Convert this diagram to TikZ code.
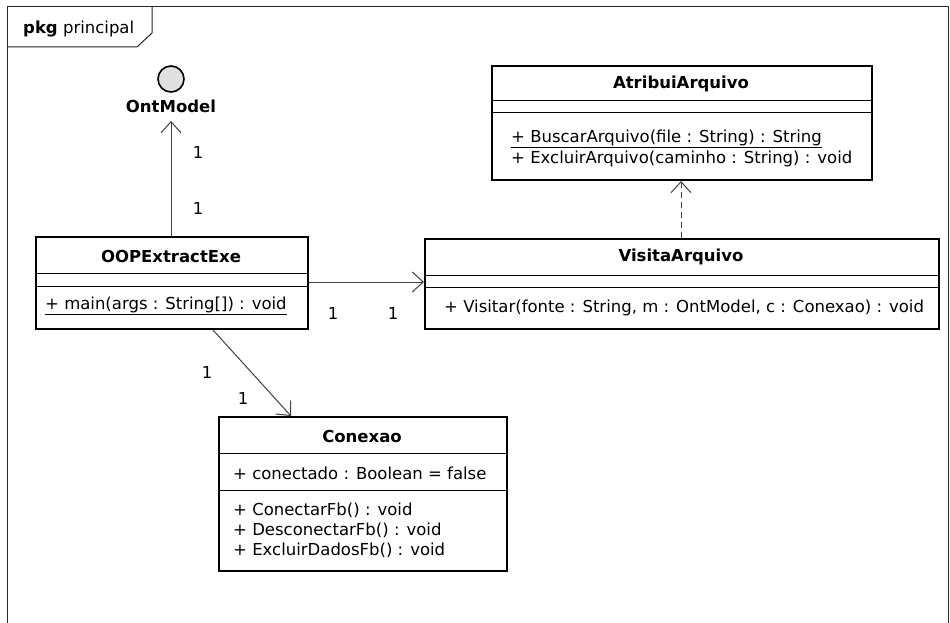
\documentclass[tikz,border=0pt]{standalone}
\usepackage{fontspec}
\setmainfont{DejaVu Sans}
\usetikzlibrary{arrows.meta}
\begin{document}
\begin{tikzpicture}[x=1pt,y=-1pt,
  classbox/.style={draw=black, line width=2pt, fill=white, inner sep=0pt, anchor=north west},
  divider/.style={draw=black, line width=0.9pt},
  member/.style={font=\fontsize{16.5}{20}\selectfont, anchor=west, inner sep=0pt},
  title/.style={font=\fontsize{16.5}{20}\selectfont\bfseries, inner sep=0pt},
  mult/.style={font=\fontsize{16.5}{20}\selectfont, inner sep=0pt},
  assoc/.style={draw=black!75, line width=1pt, -{Straight Barb[length=11pt,width=20pt,line width=1pt]}},
  realize/.style={assoc, dash pattern=on 6pt off 4pt},
]
\useasboundingbox (0,0) rectangle (950,623);

% package frame with its name tab
\draw[black!85, line width=1pt] (7,640) -- (7,7) -- (948,7) -- (948,640);
\draw[black!85, line width=1pt] (7,47) -- (137,47) -- (152,33) -- (152,7);
\node (pkg) [anchor=west, inner sep=0pt, font=\fontsize{16.5}{20}\selectfont] at (23,29) {\textbf{pkg} principal};

% interface OntModel (lollipop)
\node (ont) [circle, draw=black, line width=1.6pt, fill=black!12, minimum size=26pt, inner sep=0pt] at (171,79) {};
\node (ontlabel) [title] at (171,106) {OntModel};
\coordinate (ontend) at (171,121);

% class OOPExtractExe
\node (oop) [classbox, minimum width=272pt, minimum height=92pt] at (35,236) {};
\draw[divider] (oop.west |- 0,273) -- (oop.east |- 0,273);
\draw[divider] (oop.west |- 0,286) -- (oop.east |- 0,286);
\node (ooptitle) [title] at (171,256) {OOPExtractExe};
\node (oopmain) [member] at (45,306) {\underline{+ main(args : String[]) : void}};

% class AtribuiArquivo
\node (atrib) [classbox, minimum width=380pt, minimum height=114pt] at (491,65) {};
\draw[divider] (atrib.west |- 0,100) -- (atrib.east |- 0,100);
\draw[divider] (atrib.west |- 0,112) -- (atrib.east |- 0,112);
\node (atribtitle) [title] at (681,84) {AtribuiArquivo};
\node (buscar) [member] at (511,139) {\underline{+ BuscarArquivo(file : String) : String}};
\node (excluir) [member] at (511,159) {+ ExcluirArquivo(caminho : String) : void};

% class VisitaArquivo
\node (visita) [classbox, minimum width=514pt, minimum height=90pt] at (424,238) {};
\draw[divider] (visita.west |- 0,275) -- (visita.east |- 0,275);
\draw[divider] (visita.west |- 0,287) -- (visita.east |- 0,287);
\node (visitatitle) [title] at (681,257) {VisitaArquivo};
\node (visitar) [member] at (444,308) {+ Visitar(fonte : String, m : OntModel, c : Conexao) : void};

% class Conexao
\node (conexao) [classbox, minimum width=288pt, minimum height=154pt] at (218,416) {};
\draw[divider] (conexao.west |- 0,453) -- (conexao.east |- 0,453);
\draw[divider] (conexao.west |- 0,490) -- (conexao.east |- 0,490);
\node (conextitle) [title] at (362,436) {Conexao};
\node (conectado) [member] at (233,473) {+ conectado : Boolean = false};
\node (conectar) [member] at (233,510) {+ ConectarFb() : void};
\node (desconectar) [member] at (233,530) {+ DesconectarFb() : void};
\node (excluirdados) [member] at (233,550) {+ ExcluirDadosFb() : void};

% associations
\draw[assoc] (oop.north -| ontend) -- (ontend);
\node (m1) [mult] at (198,152) {1};
\node (m2) [mult] at (198,208) {1};

\draw[assoc] (oop.east |- 0,282) -- (visita.west |- 0,282);
\node (m3) [mult] at (333,313) {1};
\node (m4) [mult] at (393,313) {1};

\draw[assoc] (oop.south -| 213,0) -- (conexao.north -| 291,0);
\node (m5) [mult] at (207,372) {1};
\node (m6) [mult] at (243,398) {1};

% realization
\draw[realize] (visita.north -| atribtitle) -- (atrib.south -| atribtitle);
\end{tikzpicture}
\end{document}
